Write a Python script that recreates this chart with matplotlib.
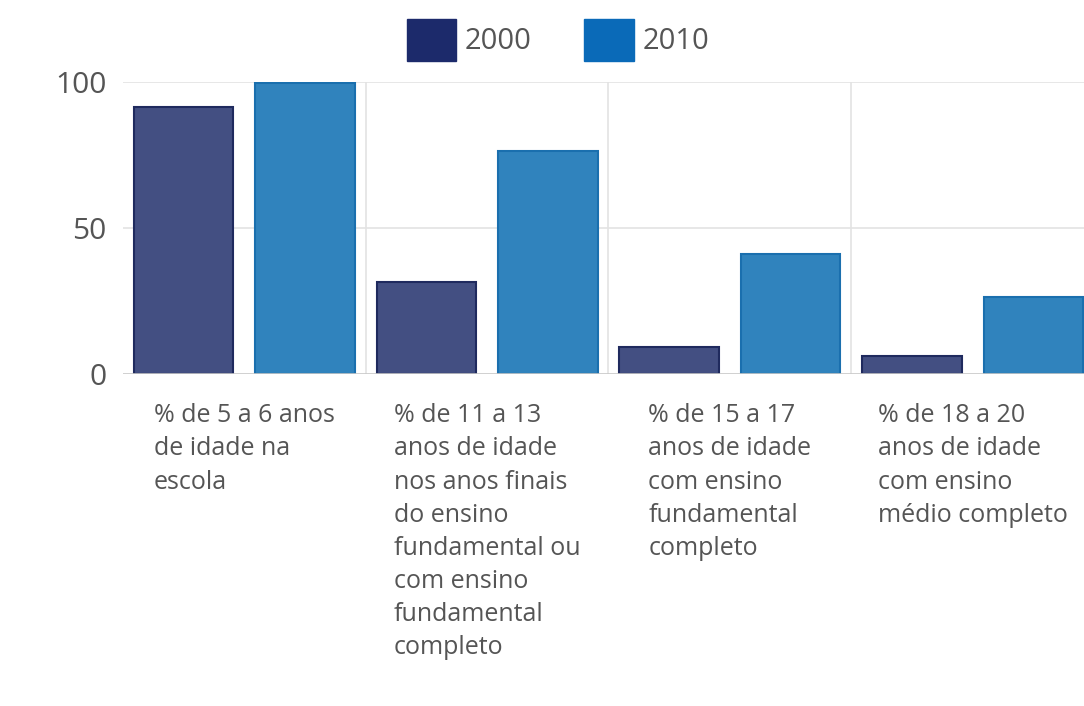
import matplotlib.pyplot as plt
import numpy as np
from matplotlib.patches import Patch

# Data
categories = [
    '% de 5 a 6 anos\nde idade na\nescola',
    '% de 11 a 13\nanos de idade\nnos anos finais\ndo ensino\nfundamental ou\ncom ensino\nfundamental\ncompleto',
    '% de 15 a 17\nanos de idade\ncom ensino\nfundamental\ncompleto',
    '% de 18 a 20\nanos de idade\ncom ensino\nmédio completo',
]
series_names = ['2000', '2010']
values_2000 = [91.5, 31.5, 9.2, 6.2]
values_2010 = [99.7, 76.5, 41.0, 26.3]

bar_colors = ['#434f82', '#3083bd']
edge_colors = ['#1f2a5e', '#1a6fae']
legend_colors = ['#1c2a6b', '#0a6ab8']

plt.rcParams['font.family'] = ['Open Sans', 'DejaVu Sans']

fig = plt.figure(figsize=(10.84, 7.06), dpi=100)
W, H = 1084, 706
ax = fig.add_axes([123 / W, 1 - 374 / H, (1084 - 123) / W, (374 - 82) / H])

x = np.arange(len(categories))
width = 0.41
ax.bar(x - 0.25, values_2000, width, color=bar_colors[0], edgecolor=edge_colors[0], linewidth=1.5, zorder=3)
ax.bar(x + 0.25, values_2010, width, color=bar_colors[1], edgecolor=edge_colors[1], linewidth=1.5, zorder=3)

ax.set_xlim(-0.5, 3.5 - 10 / 243)
ax.set_ylim(0, 100)
ax.set_yticks([0, 50, 100])
ax.set_yticklabels(['0', '50', '100'], fontsize=21.5, color='#555555')
ax.tick_params(axis='y', length=0, pad=12)
ax.set_xticks([])
for s in ax.spines.values():
    s.set_visible(False)

# gridlines
for yv in [50, 100]:
    ax.axhline(yv, color='#e3e3e3', linewidth=1.2, zorder=0)
ax.axhline(0, color='#c8c8c8', linewidth=1.2, zorder=4)
for xv in [0.5, 1.5, 2.5]:
    ax.axvline(xv, color='#e3e3e3', linewidth=1.2, zorder=0)

# category labels
for i, lab in enumerate(categories):
    ax.annotate(lab, xy=(i, 0), xycoords='data', xytext=(0, -21), textcoords='offset points',
                ha='center', va='top', multialignment='left', fontsize=18, color='#555555',
                linespacing=1.43, annotation_clip=False)

handles = [Patch(facecolor=c, edgecolor=c) for c in legend_colors]
fig.legend(handles, series_names, loc='center', bbox_to_anchor=(558 / W, 1 - 40 / H), ncol=2,
           frameon=False, fontsize=21, handlelength=1.7, handleheight=1.85, handletextpad=0.3,
           columnspacing=1.8, labelcolor='#555555')

fig.savefig('out.png', dpi=100)
